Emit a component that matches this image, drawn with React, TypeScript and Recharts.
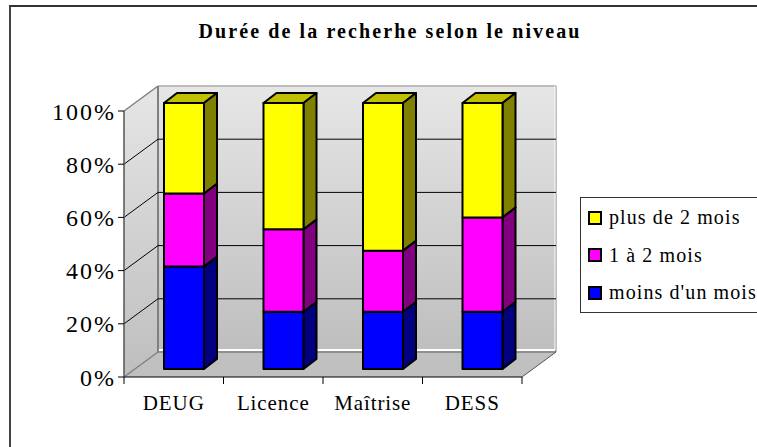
import React from "react";
import { Bar, BarChart, CartesianGrid, Legend, XAxis, YAxis } from "recharts";

const categories = ["DEUG", "Licence", "Maîtrise", "DESS"];
const lessThanOne = [38.5, 21.5, 21.5, 21.5];
const oneToTwo = [27.5, 31, 23, 35.5];
const moreThanTwo = [34, 47.5, 55.5, 43];
const yTicks = [0, 20, 40, 60, 80, 100];

const legendItems = [
  { name: "plus de 2 mois", color: "#ffff00" },
  { name: "1 à 2 mois", color: "#ff00ff" },
  { name: "moins d'un mois", color: "#0000ff" },
];

const data = categories.map((name, i) => ({
  name,
  low: lessThanOne[i],
  mid: oneToTwo[i],
  high: moreThanTwo[i],
}));

const FONT = '"Liberation Serif", "Times New Roman", serif';

// plot area of the front plane, the walls sit behind it
const LEFT = 124;
const RIGHT = 522;
const TOP = 111;
const BOTTOM = 377;
const DX = 34;
const DY = -25;
const BAND = (RIGHT - LEFT) / categories.length;

function Walls() {
  const backTop = TOP + DY;
  const backBottom = BOTTOM + DY;
  const backLeft = LEFT + DX;
  const backRight = RIGHT + DX;
  return (
    <svg width={757} height={447} style={{ position: "absolute", left: 0, top: 0 }}>
      <defs>
        <linearGradient id="wall" x1="0" y1="0" x2="0" y2="1">
          <stop offset="0%" stopColor="#e6e6e6" />
          <stop offset="100%" stopColor="#bebebe" />
        </linearGradient>
      </defs>
      <polygon
        points={`${LEFT},${TOP} ${backLeft},${backTop} ${backLeft},${backBottom} ${LEFT},${BOTTOM}`}
        fill="url(#wall)"
      />
      <rect
        x={backLeft}
        y={backTop}
        width={backRight - backLeft}
        height={backBottom - backTop}
        fill="url(#wall)"
      />
      <polygon
        points={`${LEFT},${BOTTOM} ${backLeft},${backBottom} ${backRight},${backBottom} ${RIGHT},${BOTTOM}`}
        fill="#c0c0c0"
      />
      <line x1={backLeft} y1={backTop} x2={backRight} y2={backTop} stroke="#bdbdbd" strokeWidth={2} />
      <line x1={backLeft} y1={backTop} x2={backLeft} y2={backBottom} stroke="#808080" strokeWidth={2} />
      <line x1={backRight} y1={backTop} x2={backRight} y2={backBottom} stroke="#808080" strokeWidth={1} />
      <line x1={backRight - 1} y1={backTop} x2={backRight - 1} y2={backBottom - 2} stroke="#ffffff" strokeWidth={1} />
      <line x1={backLeft + 1} y1={backBottom - 2} x2={backRight - 1} y2={backBottom - 2} stroke="#ffffff" strokeWidth={2} />
      <line x1={backLeft} y1={backBottom} x2={backRight} y2={backBottom} stroke="#808080" strokeWidth={1.5} />
      <line x1={RIGHT} y1={BOTTOM} x2={backRight} y2={backBottom} stroke="#555555" strokeWidth={1} />
    </svg>
  );
}

function GridLine(props: any) {
  const { x1, y1, x2 } = props;
  const edge = y1 <= TOP + 1 || y1 >= BOTTOM - 1;
  return (
    <g>
      <line
        x1={x1}
        y1={y1}
        x2={x1 + DX}
        y2={y1 + DY}
        stroke={edge ? "#808080" : "#000000"}
        strokeWidth={edge ? 1.5 : 1}
      />
      {!edge && (
        <line x1={x1 + DX} y1={y1 + DY} x2={x2 + DX} y2={y1 + DY} stroke="#000000" strokeWidth={1} />
      )}
    </g>
  );
}

// front face, side and top of one block, moved into the depth of the chart
function Block3D(props: any) {
  const { x, y, width, height, fill, side, top } = props;
  const bx = x + 10;
  const by = y - 8;
  const d = 13;
  const h = 10;
  return (
    <g stroke="#000000" strokeWidth={2} strokeLinejoin="round">
      {top && (
        <polygon
          points={`${bx},${by} ${bx + d},${by - h} ${bx + width + d},${by - h} ${bx + width},${by}`}
          fill={top}
        />
      )}
      <polygon
        points={`${bx + width},${by} ${bx + width + d},${by - h} ${bx + width + d},${by + height - h} ${bx + width},${by + height}`}
        fill={side}
      />
      <rect x={bx} y={by} width={width} height={height} fill={fill} />
    </g>
  );
}

function XTick(props: any) {
  const { x, y, payload, index } = props;
  const left = x - BAND / 2;
  return (
    <g>
      <line x1={left} y1={BOTTOM} x2={left} y2={BOTTOM + 7} stroke="#000000" />
      {index === categories.length - 1 && (
        <line x1={left + BAND} y1={BOTTOM} x2={left + BAND} y2={BOTTOM + 7} stroke="#000000" />
      )}
      <text
        x={x}
        y={y + 25}
        textAnchor="middle"
        fontFamily={FONT}
        fontSize={21}
        letterSpacing={0.9}
        fill="#000000"
      >
        {payload.value}
      </text>
    </g>
  );
}

function ChartLegend() {
  return (
    <div
      style={{
        boxSizing: "border-box",
        width: 190,
        height: 116,
        border: "1px solid #333333",
        background: "#ffffff",
        fontFamily: FONT,
        fontSize: 20,
        letterSpacing: 1.1,
        paddingTop: 1,
      }}
    >
      {legendItems.map((item) => (
        <div key={item.name} style={{ display: "flex", alignItems: "center", height: 37.5, paddingLeft: 7 }}>
          <span
            style={{
              display: "inline-block",
              boxSizing: "border-box",
              width: 14,
              height: 14,
              marginRight: 7,
              background: item.color,
              border: "2px solid #000000",
            }}
          />
          <span style={{ whiteSpace: "nowrap" }}>{item.name}</span>
        </div>
      ))}
    </div>
  );
}

export default function App() {
  return (
    <div style={{ position: "absolute", left: 0, top: 0, width: 757, height: 447, overflow: "hidden", background: "#ffffff" }}>
      <div style={{ position: "absolute", left: 9, top: 5, width: 760, height: 460, borderTop: "2px solid #333333", borderLeft: "2px solid #444444" }} />
      <Walls />
      <BarChart
        width={757}
        height={447}
        data={data}
        margin={{ left: LEFT - 70, right: 757 - RIGHT, top: TOP, bottom: 447 - BOTTOM - 40 }}
        barSize={40}
        style={{ position: "absolute", left: 0, top: 0 }}
      >
        <text
          x={390}
          y={38}
          textAnchor="middle"
          fontFamily={FONT}
          fontSize={20}
          fontWeight="bold"
          letterSpacing={2.1}
          fill="#000000"
        >
          Durée de la recherhe selon le niveau
        </text>
        <CartesianGrid horizontal={(p: any) => <GridLine key={p.key} {...p} />} vertical={false} />
        <XAxis
          dataKey="name"
          height={40}
          interval={0}
          axisLine={{ stroke: "#000000", strokeWidth: 1 }}
          tickLine={false}
          tick={<XTick />}
        />
        <YAxis
          width={70}
          domain={[0, 100]}
          ticks={yTicks}
          tickFormatter={(v) => `${v}%`}
          axisLine={{ stroke: "#555555", strokeWidth: 1.5 }}
          tickLine={{ stroke: "#000000" }}
          tickSize={6}
          tickMargin={2}
          tick={{ fill: "#000000", fontSize: 24, fontFamily: FONT, letterSpacing: 2 }}
        />
        <Legend
          layout="vertical"
          align="center"
          verticalAlign="middle"
          content={<ChartLegend />}
          wrapperStyle={{ left: 580, top: 197, width: 190, height: 116 }}
        />
        <Bar dataKey="low" name="moins d'un mois" stackId="a" fill="#0000ff" shape={<Block3D side="#000080" />} isAnimationActive={false} />
        <Bar dataKey="mid" name="1 à 2 mois" stackId="a" fill="#ff00ff" shape={<Block3D side="#800080" />} isAnimationActive={false} />
        <Bar dataKey="high" name="plus de 2 mois" stackId="a" fill="#ffff00" shape={<Block3D side="#808000" top="#c0c000" />} isAnimationActive={false} />
      </BarChart>
    </div>
  );
}
